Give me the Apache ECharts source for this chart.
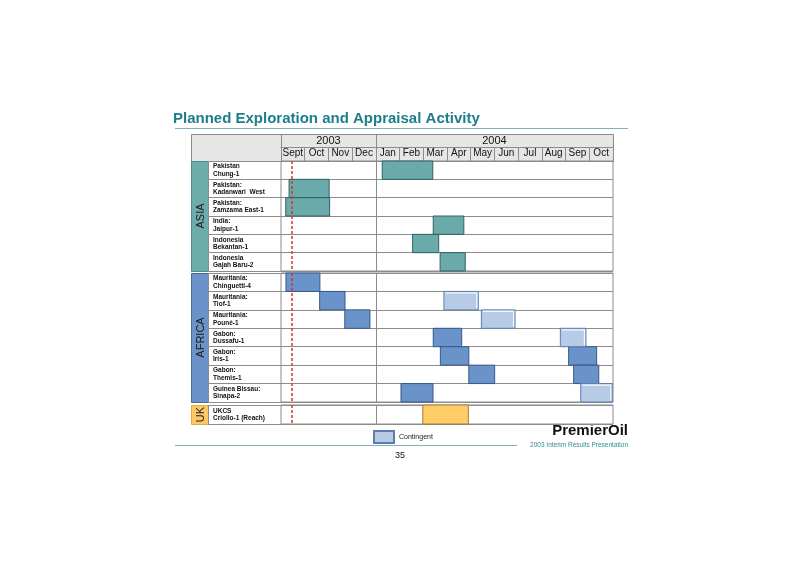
<!DOCTYPE html>
<html><head><meta charset="utf-8">
<script src="https://cdn.jsdelivr.net/npm/echarts@6/dist/echarts.min.js"></script>
<style>html,body{margin:0;padding:0;background:#fff}#c{width:800px;height:565px}</style>
</head><body><div id="c"></div>
<script>
// ---------- data ----------
const months = ['Sept','Oct','Nov','Dec','Jan','Feb','Mar','Apr','May','Jun','Jul','Aug','Sep','Oct'];
const years = ['2003','2004'];
const yearMonthCounts = [4, 10];
const regions = ['ASIA','AFRICA','UK'];

const asiaWells = ['Pakistan\nChung-1','Pakistan:\nKadanwari  West','Pakistan:\nZamzama East-1','India:\nJaipur-1','Indonesia\nBekantan-1','Indonesia\nGajah Baru-2'];
const asiaRow   = [0, 1, 2, 3, 4, 5];
const asiaStart = [4.27, 0.34, 0.20, 6.42, 5.55, 6.71];
const asiaEnd   = [6.40, 2.03, 2.05, 7.71, 6.65, 7.77];

const africaWells = ['Mauritania:\nChinguetti-4','Mauritania:\nTiof-1','Mauritania:\nPouné-1','Gabon:\nDussafu-1','Gabon:\nIris-1','Gabon:\nThemis-1','Guinea Bissau:\nSinapa-2'];
const africaRow   = [0, 1, 2, 3, 4, 5, 6, 4, 5];
const africaStart = [0.21, 1.63, 2.69, 6.42, 6.72, 7.92, 5.06, 12.13, 12.34];
const africaEnd   = [1.64, 2.70, 3.75, 7.62, 7.92, 9.01, 6.41, 13.31, 13.40];
// contingent activities
const contRow   = [1, 2, 3, 6];
const contStart = [6.87, 8.45, 11.78, 12.64];
const contEnd   = [8.32, 9.87, 12.86, 13.97];

const ukWells = ['UKCS\nCriollo-1 (Reach)'];
const ukRow   = [0];
const ukStart = [5.98];
const ukEnd   = [7.90];

const todayMonth = 0.46;   // red dashed "now" line, months after 1 Sept 2003

// ---------- layout / style ----------
const FONT = '"Liberation Sans", Arial, Helvetica, sans-serif';
const GRIDC = '#8c8c8c';
const X0 = 281, X1 = 613, TL = 191, RR = 208;
const HEAD_TOP = 134, YEAR_BOT = 147, HEAD_BOT = 161;
const blocks = [{top:161,bottom:271},{top:273,bottom:402},{top:405,bottom:424}];
const regionFill = ['#6eabab','#6b93c9','#fcc964'];
const regionStroke = ['#4b8c8c','#4a6c9c','#e3a838'];

const styles = {
  teal:   {fill:'#6aaaaa', stroke:'#2f6363'},
  blue:   {fill:'#6a93c9', stroke:'#38578a'},
  cont:   {fill:'#b7cbe6', stroke:'#5f7dac'},
  orange: {fill:'#ffcc66', stroke:'#a07f38'}
};
const totalMonths = months.length;
const yearBoundary = yearMonthCounts[0];
const yearCenters = [];
{ let acc = 0; yearMonthCounts.forEach(c => { yearCenters.push(acc + c/2); acc += c; }); }

function mk(rows, s, e) { return rows.map((r,i) => [r, s[i], e[i]]); }

function renderer(st, contingent) {
  return function(params, api) {
    const row = api.value(0);
    const p0 = api.coord([api.value(1), row]);
    const p1 = api.coord([api.value(2), row]);
    const h = api.size([0, 1])[1];
    const x = p0[0], y = p0[1] - h/2, w = p1[0] - p0[0];
    const children = [{type:'rect', shape:{x:x, y:y, width:w, height:h},
      style:{fill:st.fill, stroke:st.stroke, lineWidth:1}}];
    if (contingent) {
      children.push({type:'polyline', shape:{points:[[x+1.5,y+1.5],[x+w-1.5,y+1.5],[x+w-1.5,y+h-1.5]]},
        style:{fill:null, stroke:'rgba(255,255,255,0.85)', lineWidth:1.2}});
    }
    return {type:'group', children:children};
  };
}

const markLines = {
  symbol:'none', silent:true, animation:false, label:{show:false}, z:10,
  data:[
    {xAxis: yearBoundary, lineStyle:{color:GRIDC, width:1, type:'solid'}},
    {xAxis: todayMonth, lineStyle:{color:'#d8352a', width:1.5, type:[3,2]}}
  ]
};

const wellsByRegion = [asiaWells, africaWells, ukWells];

const grids = blocks.map(b => ({left:X0, right:800-X1, top:b.top, height:b.bottom-b.top,
  show:true, borderColor:GRIDC, borderWidth:1, backgroundColor:'transparent'}));

const xAxes = blocks.map((b,i) => ({type:'value', gridIndex:i, min:0, max:totalMonths, show:false, position:'bottom'}));
xAxes.push({
  type:'category', gridIndex:0, data:months, position:'top', offset:0,
  axisLine:{show:true, lineStyle:{color:GRIDC}},
  axisTick:{show:true, length:14, interval:0, alignWithLabel:false, lineStyle:{color:GRIDC}},
  axisLabel:{interval:0, margin:3, fontSize:10, color:'#111', fontFamily:FONT},
  splitLine:{show:false}
});
xAxes.push({
  type:'value', gridIndex:0, min:0, max:totalMonths, position:'top', offset:HEAD_BOT-YEAR_BOT,
  axisLine:{show:true, lineStyle:{color:GRIDC}},
  axisTick:{show:true, length:YEAR_BOT-HEAD_TOP, customValues:[yearBoundary], lineStyle:{color:GRIDC}},
  axisLabel:{customValues:yearCenters, margin:1, fontSize:11, color:'#111', fontFamily:FONT,
    formatter: v => { const k = yearCenters.indexOf(v); return k >= 0 ? years[k] : ''; }},
  splitLine:{show:false}
});

const yAxes = blocks.map((b,i) => ({
  type:'category', gridIndex:i, data:wellsByRegion[i], inverse:true,
  axisLine:{show:false},
  axisTick:{show:true, length:X0-RR, lineStyle:{color:GRIDC}},
  axisLabel:{align:'left', margin:X0-213, fontSize:6.5, fontWeight:'bold', lineHeight:7.5, color:'#111', fontFamily:FONT},
  splitLine:{show:true, lineStyle:{color:GRIDC}}
}));

const series = [
  {name:'Asia', type:'custom', xAxisIndex:0, yAxisIndex:0, renderItem:renderer(styles.teal,false),
   encode:{x:[1,2], y:0}, data:mk(asiaRow, asiaStart, asiaEnd), markLine:markLines, animation:false},
  {name:'Africa', type:'custom', xAxisIndex:1, yAxisIndex:1, renderItem:renderer(styles.blue,false),
   encode:{x:[1,2], y:0}, data:mk(africaRow, africaStart, africaEnd), markLine:markLines, animation:false},
  {name:'Contingent', type:'custom', xAxisIndex:1, yAxisIndex:1, renderItem:renderer(styles.cont,true),
   itemStyle:{color:styles.cont.fill, borderColor:styles.cont.stroke, borderWidth:1},
   encode:{x:[1,2], y:0}, data:mk(contRow, contStart, contEnd), animation:false},
  {name:'UK', type:'custom', xAxisIndex:2, yAxisIndex:2, renderItem:renderer(styles.orange,false),
   encode:{x:[1,2], y:0}, data:mk(ukRow, ukStart, ukEnd), markLine:markLines, animation:false}
];

const graphics = [
  {type:'text', x:173, y:119, style:{text:'Planned Exploration and Appraisal Activity', font:'bold 15px '+FONT, fill:'#1c7e8a', verticalAlign:'middle'}},
  {type:'line', shape:{x1:175, y1:128.5, x2:628, y2:128.5}, style:{stroke:'#7ab7bb', lineWidth:1}},
  {type:'rect', z:-10, shape:{x:TL+0.5, y:HEAD_TOP+0.5, width:X1-TL, height:HEAD_BOT-HEAD_TOP}, style:{fill:'#e6e6e6', stroke:GRIDC, lineWidth:1}},
  {type:'line', shape:{x1:X0+0.5, y1:HEAD_TOP, x2:X0+0.5, y2:HEAD_BOT}, style:{stroke:GRIDC, lineWidth:1}},
  // footer
  {type:'line', shape:{x1:175, y1:445.5, x2:517, y2:445.5}, style:{stroke:'#7ab7bb', lineWidth:1}},
  {type:'text', x:628, y:438, style:{text:'PremierOil', font:'bold 15px '+FONT, fill:'#111', align:'right', verticalAlign:'bottom'}},
  {type:'text', x:628, y:445.5, style:{text:'2003 Interim Results Presentation', font:'6.5px '+FONT, fill:'#2a8c98', align:'right', verticalAlign:'middle'}},
  {type:'text', x:400, y:456, style:{text:'35', font:'9px '+FONT, fill:'#111', align:'center', verticalAlign:'middle'}}
];
blocks.forEach((b,i) => {
  graphics.push({type:'rect', shape:{x:TL+0.5, y:b.top+0.5, width:RR-TL, height:b.bottom-b.top},
    style:{fill:regionFill[i], stroke:regionStroke[i], lineWidth:1}});
  graphics.push({type:'line', shape:{x1:RR+0.5, y1:b.top, x2:RR+0.5, y2:b.bottom+1}, style:{stroke:GRIDC, lineWidth:1}});
  graphics.push({type:'text', x:(TL+RR)/2+1, y:(b.top+b.bottom)/2, rotation:Math.PI/2,
    style:{text:regions[i], font:'11px '+FONT, fill:'#1a1a1a', align:'center', verticalAlign:'middle'}});
});

const chart = echarts.init(document.getElementById('c'), null, {renderer:'canvas'});
chart.setOption({
  animation:false,
  backgroundColor:'#fff',
  grid:grids, xAxis:xAxes, yAxis:yAxes, series:series,
  legend:{data:['Contingent'], left:373, top:430, padding:0, itemWidth:20, itemHeight:12, icon:'rect',
    selectedMode:false, textStyle:{fontSize:7, color:'#222', fontFamily:FONT}},
  graphic:graphics
});
</script></body></html>
